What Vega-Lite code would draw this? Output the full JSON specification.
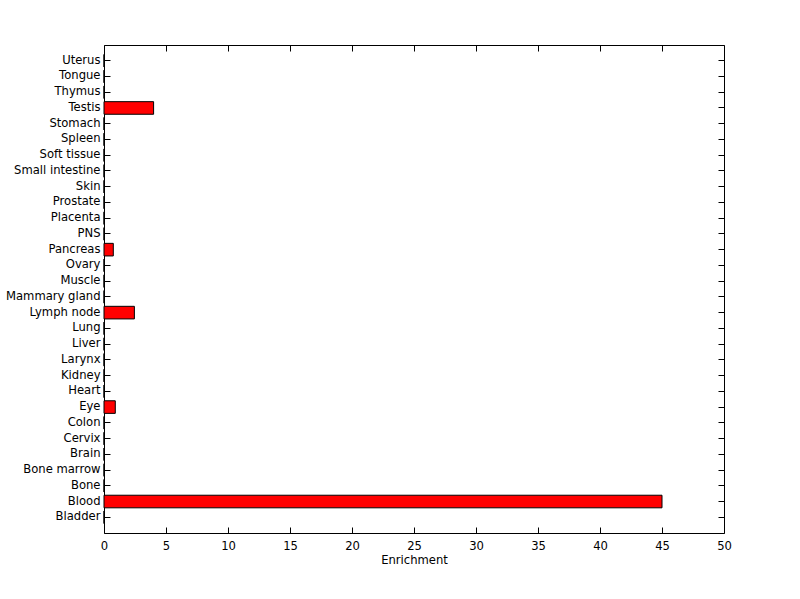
{
  "$schema": "https://vega.github.io/schema/vega-lite/v6.json",
  "autosize": "none",
  "width": 620,
  "height": 488,
  "padding": {"left": 104, "top": 45, "right": 76, "bottom": 66},
  "background": "white",
  "config": {
    "view": {"stroke": null},
    "axis": {
      "labelFont": "DejaVu Sans",
      "titleFont": "DejaVu Sans",
      "labelFontSize": 11.6,
      "titleFontSize": 11.6,
      "titleFontWeight": "normal",
      "labelColor": "black",
      "titleColor": "black",
      "domainColor": "black",
      "tickColor": "black",
      "grid": false,
      "domainWidth": 1,
      "tickWidth": 1,
      "labelFlush": false,
      "labelOverlap": false
    }
  },
  "data": {
    "values": [
      {"tissue": "Bladder", "enrichment": 0},
      {"tissue": "Blood", "enrichment": 45},
      {"tissue": "Bone", "enrichment": 0},
      {"tissue": "Bone marrow", "enrichment": 0},
      {"tissue": "Brain", "enrichment": 0},
      {"tissue": "Cervix", "enrichment": 0},
      {"tissue": "Colon", "enrichment": 0},
      {"tissue": "Eye", "enrichment": 0.91},
      {"tissue": "Heart", "enrichment": 0},
      {"tissue": "Kidney", "enrichment": 0},
      {"tissue": "Larynx", "enrichment": 0},
      {"tissue": "Liver", "enrichment": 0},
      {"tissue": "Lung", "enrichment": 0},
      {"tissue": "Lymph node", "enrichment": 2.45},
      {"tissue": "Mammary gland", "enrichment": 0},
      {"tissue": "Muscle", "enrichment": 0},
      {"tissue": "Ovary", "enrichment": 0},
      {"tissue": "Pancreas", "enrichment": 0.75},
      {"tissue": "PNS", "enrichment": 0},
      {"tissue": "Placenta", "enrichment": 0},
      {"tissue": "Prostate", "enrichment": 0},
      {"tissue": "Skin", "enrichment": 0},
      {"tissue": "Small intestine", "enrichment": 0},
      {"tissue": "Soft tissue", "enrichment": 0},
      {"tissue": "Spleen", "enrichment": 0},
      {"tissue": "Stomach", "enrichment": 0},
      {"tissue": "Testis", "enrichment": 4},
      {"tissue": "Thymus", "enrichment": 0},
      {"tissue": "Tongue", "enrichment": 0},
      {"tissue": "Uterus", "enrichment": 0}
    ]
  },
  "encoding": {
    "y": {
      "field": "tissue",
      "type": "nominal",
      "scale": {
        "domain": ["Uterus", "Tongue", "Thymus", "Testis", "Stomach", "Spleen", "Soft tissue", "Small intestine", "Skin", "Prostate", "Placenta", "PNS", "Pancreas", "Ovary", "Muscle", "Mammary gland", "Lymph node", "Lung", "Liver", "Larynx", "Kidney", "Heart", "Eye", "Colon", "Cervix", "Brain", "Bone marrow", "Bone", "Blood", "Bladder"],
        "paddingInner": 0.2,
        "paddingOuter": 0.6
      }
    },
    "x": {
      "field": "enrichment",
      "type": "quantitative",
      "scale": {"domain": [0, 50], "nice": false, "zero": true}
    }
  },
  "layer": [
    {
      "mark": {"type": "bar", "fill": "#ff0000", "stroke": "black", "strokeWidth": 1},
      "encoding": {
        "y": {"field": "tissue", "type": "nominal", "axis": {"orient": "left", "title": null, "tickSize": -6, "labelPadding": 10, "domain": true}},
        "x": {"field": "enrichment", "type": "quantitative", "axis": {"orient": "bottom", "title": "Enrichment", "values": [0,5,10,15,20,25,30,35,40,45,50], "tickSize": -6, "labelPadding": 13, "titlePadding": 3, "domain": true}}
      }
    },
    {
      "mark": {"type": "bar", "opacity": 0},
      "encoding": {
        "y": {"field": "tissue", "type": "nominal", "axis": {"orient": "right", "title": null, "labels": false, "tickSize": -6, "domain": true}},
        "x": {"field": "enrichment", "type": "quantitative", "axis": {"orient": "top", "title": null, "labels": false, "values": [0,5,10,15,20,25,30,35,40,45,50], "tickSize": -6, "domain": true}}
      }
    }
  ],
  "resolve": {"axis": {"x": "independent", "y": "independent"}}
}
